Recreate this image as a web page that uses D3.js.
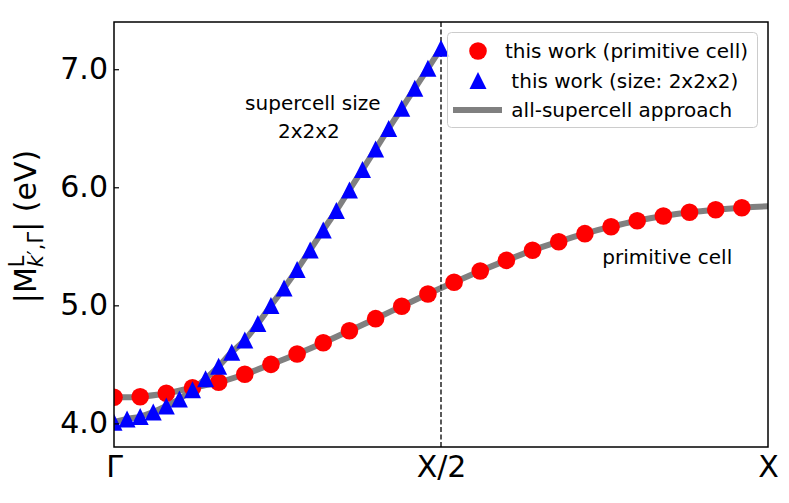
<!DOCTYPE html>
<html>
<head>
<meta charset="utf-8">
<script src="https://cdn.jsdelivr.net/npm/d3@7"></script>
<style>
  html, body { margin: 0; padding: 0; background: #fff; }
  svg { display: block; font-family: "DejaVu Sans", sans-serif; }
</style>
</head>
<body>
<svg id="chart" width="789" height="503"></svg>
<script>
// ---- data ----
const xTickLabels = ["Γ", "X/2", "X"];
const xTickValues = [0, 0.5, 1];
const yTickValues = [4.0, 5.0, 6.0, 7.0];

// this work (primitive cell): points at k/25, k = 0..24
const primitiveValues = [4.221, 4.226, 4.255, 4.302, 4.348, 4.416, 4.500, 4.588, 4.683, 4.785,
  4.887, 4.992, 5.096, 5.195, 5.291, 5.381, 5.466, 5.539, 5.607, 5.666,
  5.717, 5.757, 5.788, 5.810, 5.827];
// this work (size: 2x2x2): points at k/50, k = 0..25
const supercellValues = [4.010, 4.037, 4.058, 4.096, 4.147, 4.207, 4.285, 4.378, 4.484, 4.603,
  4.706, 4.846, 4.999, 5.147, 5.303, 5.469, 5.638, 5.803, 5.977, 6.150,
  6.324, 6.498, 6.669, 6.838, 7.008, 7.177];
// all-supercell approach: end value of primitive-cell branch at X
const allSupercellPrimEnd = 5.840;

const legendLabels = ["this work (primitive cell)", " this work (size: 2x2x2)", " all-supercell approach"];
const annotations = [
  {text: "supercell size", x: 0.304, y: 6.654},
  {text: "2x2x2", x: 0.298, y: 6.417},
  {text: "primitive cell", x: 0.846, y: 5.35}
];

// ---- layout ----
const W = 789, H = 503;
const m = {left: 114, right: 768, top: 22, bottom: 447};
const svg = d3.select("#chart");

const x = d3.scaleLinear().domain([0, 1]).range([m.left, m.right]);
const y = d3.scaleLinear().domain([3.8, 7.4]).range([m.bottom, m.top]);

const primPts = primitiveValues.map((v, i) => [i / 25, v]);
const superPts = supercellValues.map((v, i) => [i / 50, v]);
const primLinePts = primPts.concat([[1, allSupercellPrimEnd]]);

svg.append("defs").append("clipPath").attr("id", "clip")
  .append("rect").attr("x", m.left).attr("y", m.top)
  .attr("width", m.right - m.left).attr("height", m.bottom - m.top);

const plot = svg.append("g").attr("clip-path", "url(#clip)");

const line = d3.line().x(d => x(d[0])).y(d => y(d[1])).curve(d3.curveCatmullRom);

plot.append("path").datum(primLinePts).attr("d", line)
  .attr("fill", "none").attr("stroke", "#808080").attr("stroke-width", 6);
plot.append("path").datum(superPts).attr("d", line)
  .attr("fill", "none").attr("stroke", "#808080").attr("stroke-width", 6);

// dashed vertical line at X/2
plot.append("line")
  .attr("x1", x(0.5)).attr("x2", x(0.5)).attr("y1", m.top).attr("y2", m.bottom)
  .attr("stroke", "#000").attr("stroke-width", 1.3).attr("stroke-dasharray", "5,2.5");

plot.selectAll("circle.prim").data(primPts).enter().append("circle")
  .attr("class", "prim")
  .attr("cx", d => x(d[0])).attr("cy", d => y(d[1])).attr("r", 8.8)
  .attr("fill", "#ff0000");

const tri = s => `M0,${-s}L${s},${s}L${-s},${s}Z`;
plot.selectAll("path.sup").data(superPts).enter().append("path")
  .attr("class", "sup")
  .attr("transform", d => `translate(${x(d[0])},${y(d[1])})`)
  .attr("d", tri(8.5))
  .attr("fill", "#0000ff");

// annotations
svg.selectAll("text.ann").data(annotations).enter().append("text")
  .attr("class", "ann")
  .attr("x", d => x(d.x)).attr("y", d => y(d.y))
  .attr("text-anchor", "middle").attr("font-size", 20).attr("fill", "#000")
  .text(d => d.text);

// frame
svg.append("rect").attr("x", m.left).attr("y", m.top)
  .attr("width", m.right - m.left).attr("height", m.bottom - m.top)
  .attr("fill", "none").attr("stroke", "#000").attr("stroke-width", 1.5);

// y axis
const yAxis = d3.axisLeft(y).tickValues(yTickValues).tickFormat(d3.format(".1f"))
  .tickSizeInner(-5).tickSizeOuter(0).tickPadding(8);
const gy = svg.append("g").attr("transform", `translate(${m.left},0)`).call(yAxis);
gy.select(".domain").remove();
gy.selectAll(".tick line").attr("stroke", "#000").attr("stroke-width", 1.2);
gy.selectAll(".tick text").attr("font-size", 30).attr("font-family", "DejaVu Sans").attr("fill", "#000")
  .attr("x", -6);

// x axis
const xAxis = d3.axisBottom(x).tickValues(xTickValues).tickFormat((d, i) => xTickLabels[i])
  .tickSize(0).tickPadding(8);
const gx = svg.append("g").attr("transform", `translate(0,${m.bottom})`).call(xAxis);
gx.select(".domain").remove();
gx.selectAll(".tick text").attr("font-size", 30).attr("font-family", "DejaVu Sans").attr("fill", "#000")
  .attr("dy", null).attr("y", 30);

// y label
const yl = svg.append("text")
  .attr("transform", `translate(36,${(m.top + m.bottom) / 2 - 8}) rotate(-90)`)
  .attr("text-anchor", "middle").attr("font-size", 30).attr("fill", "#000");
yl.append("tspan").text("|M");
yl.append("tspan").attr("font-size", 21).attr("dy", -12).text("L");
yl.append("tspan").attr("font-size", 21).attr("dx", -11.7).attr("dy", 19)
  .attr("font-style", "italic").text("k");
yl.append("tspan").attr("font-size", 21).text("′,Γ");
yl.append("tspan").attr("dy", -7).text("| (eV)");

// legend
const lg = svg.append("g");
lg.append("rect").attr("x", 447.5).attr("y", 32.5).attr("width", 310).attr("height", 95)
  .attr("rx", 4).attr("fill", "#fff").attr("fill-opacity", 0.8)
  .attr("stroke", "#cccccc").attr("stroke-width", 1);
const rowY = [51, 80.5, 110];
lg.append("circle").attr("cx", 478).attr("cy", rowY[0]).attr("r", 8.8).attr("fill", "#ff0000");
lg.append("path").attr("transform", `translate(478,${rowY[1]})`).attr("d", tri(8.5)).attr("fill", "#0000ff");
lg.append("line").attr("x1", 453).attr("x2", 502).attr("y1", rowY[2]).attr("y2", rowY[2])
  .attr("stroke", "#808080").attr("stroke-width", 6);
lg.selectAll("text").data(legendLabels).enter().append("text")
  .attr("x", 505).attr("y", (d, i) => rowY[i] + 7)
  .attr("font-size", 20).attr("fill", "#000")
  .style("white-space", "pre")
  .text(d => d);
</script>
</body>
</html>
